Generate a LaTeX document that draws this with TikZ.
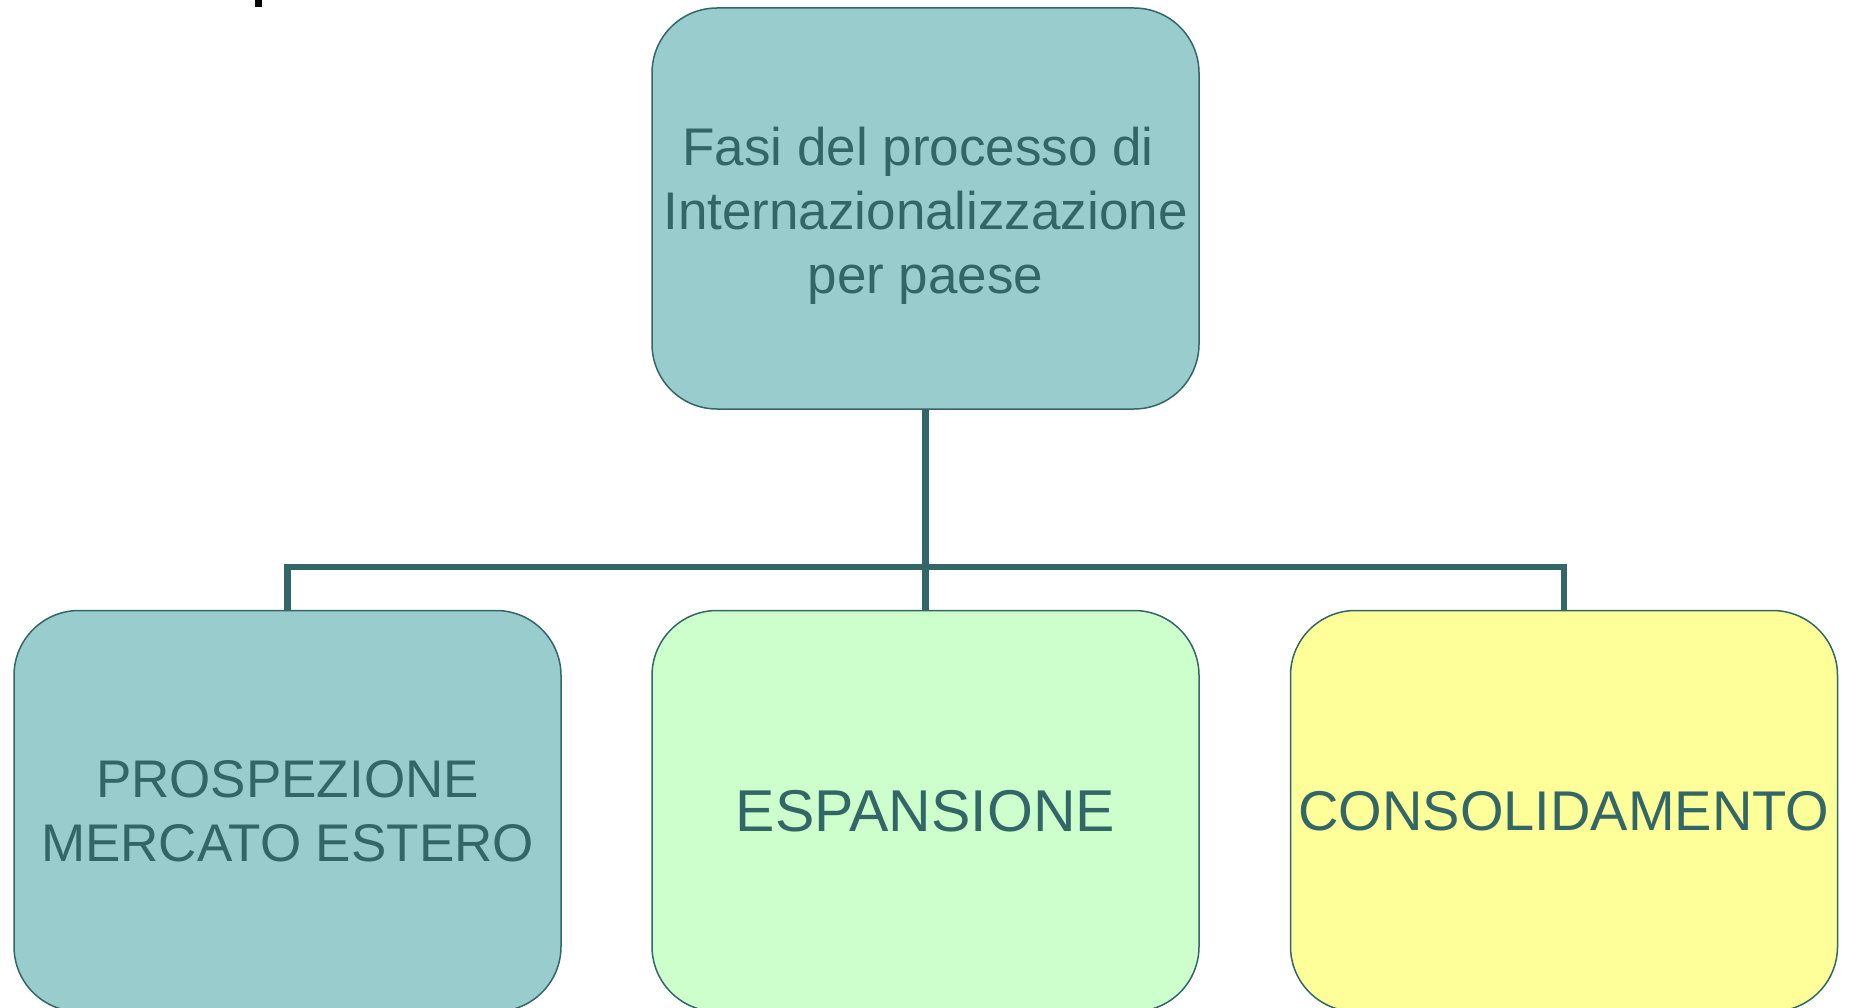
\documentclass[tikz,border=0pt]{standalone}
\usepackage{fontspec}
\setmainfont{Liberation Sans}
\definecolor{teal1}{HTML}{99CCCC}
\definecolor{green1}{HTML}{CCFFCC}
\definecolor{yellow1}{HTML}{FFFF99}
\definecolor{edge1}{HTML}{336666}
\begin{document}
\begin{tikzpicture}[x=1pt,y=-1pt,
  box/.style={draw=edge1,line width=1.5pt,rounded corners=65pt,minimum width=547pt,minimum height=401pt,inner sep=0pt,align=center,text=edge1},
  bigtext/.style={font=\fontsize{53}{64}\selectfont},
  wordtext/.style={font=\fontsize{56}{66}\selectfont},
  midtext/.style={font=\fontsize{59}{68}\selectfont},
  conn/.style={draw=edge1,line width=6.5pt}]
\useasboundingbox (0,0) rectangle (1849,1008);
\clip (0,0) rectangle (1849,1008);
\fill[black] (255,0) rectangle (262,7);
\node[box,fill=teal1] (top) at (925.5,208.5) {};
\node[bigtext,text=edge1,align=center,inner sep=0pt] (toptext) at (925.5,216) {Fasi del processo di\ \mbox{}\\Internazionalizzazione\\per paese};
\node[box,fill=teal1,bigtext] (c1) at (287.5,811) {PROSPEZIONE\\MERCATO ESTERO};
\node[box,fill=green1,midtext] (c2) at (925.5,811) {ESPANSIONE};
\node[box,fill=yellow1,wordtext] (c3) at (1564,811) {CONSOLIDAMENTO};
\coordinate (bus) at (925.5,567);
\draw[conn] (top.south) -- (bus);
\draw[conn] (bus) -| (c1.north);
\draw[conn] (bus) -- (c2.north);
\draw[conn] (bus) -| (c3.north);
\end{tikzpicture}
\end{document}
